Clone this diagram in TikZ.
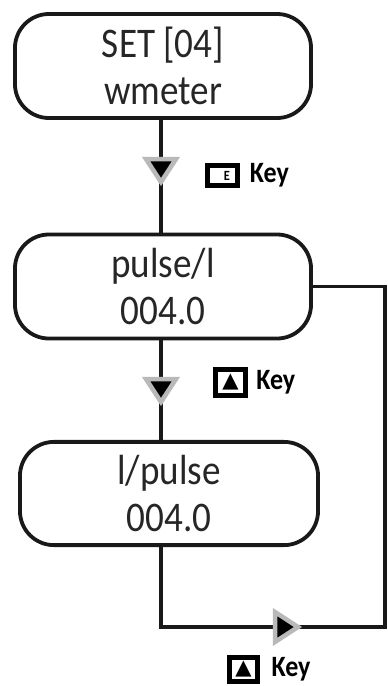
\documentclass[tikz,border=0pt]{standalone}
\usepackage{fontspec}
\setmainfont[FakeStretch=0.88]{Carlito}
\newfontfamily\symfont{DejaVu Sans}
\usetikzlibrary{positioning}

\tikzset{
  menubox/.style={draw=black!90, line width=2.7pt, rounded corners=0.85cm,
    minimum width=7.4cm, minimum height=2.6cm, align=center, inner sep=0pt,
    font=\fontsize{30}{34}\selectfont, text=black!85},
  flow/.style={line width=2.8pt, draw=black!90},
  keyicon/.style={draw, line width=0.12cm, inner sep=0pt,
    minimum width=0.76cm, minimum height=0.64cm},
  keytext/.style={font=\bfseries\fontsize{21}{21}\selectfont, inner sep=0pt},
  downmark/.pic={\filldraw[fill=black, draw=gray!55, line width=3.2pt, line join=miter]
    (-15,-11) -- (15,-11) -- (0,12) -- cycle;},
  rightmark/.pic={\filldraw[fill=black, draw=gray!55, line width=3.2pt, line join=miter]
    (-11,-15) -- (-11,15) -- (12,0) -- cycle;}
}

\begin{document}
\begin{tikzpicture}[x=0.025cm, y=-0.025cm]
\useasboundingbox (0,0) rectangle (388,686);
% menu states
\node[menubox] (b1) at (163,66) {SET [04]\\wmeter};
\node[menubox] (b2) at (163,286.5) {pulse/l\\004.0};
\node[menubox, minimum width=7.45cm, minimum height=2.58cm] (b3) at (169,493.5) {l/pulse\\004.0};
\coordinate (c1) at (385,627);
% connectors
\draw[flow] (b1.south -| 161,0) -- (b2.north -| 161,0);
\draw[flow] (b2.south -| 161,0) -- (b3.north -| 161,0);
\draw[flow] (b3.south -| 161,0) |- (c1) |- (b2.east);
\pic at (161,170) {downmark};
\pic at (161,390) {downmark};
\pic at (286,627) {rightmark};
% keys
\node[keyicon, minimum height=0.5cm] (k1) at (222.5,175.5)
  {\hspace*{0.22cm}\bfseries\fontsize{10}{10}\selectfont E};
\node[keytext, right=0.24cm of k1] (t1) {Key};
\node[keyicon] (k2) at (230.5,382.5) {\symfont\fontsize{15}{15}\selectfont ▲};
\node[keytext, right=0.2cm of k2] (t2) {Key};
\node[keyicon, minimum width=0.71cm, minimum height=0.61cm] (k3) at (243.5,669.5)
  {\symfont\fontsize{15}{15}\selectfont ▲};
\node[keytext, right=0.28cm of k3] (t3) {Key};
\end{tikzpicture}
\end{document}
